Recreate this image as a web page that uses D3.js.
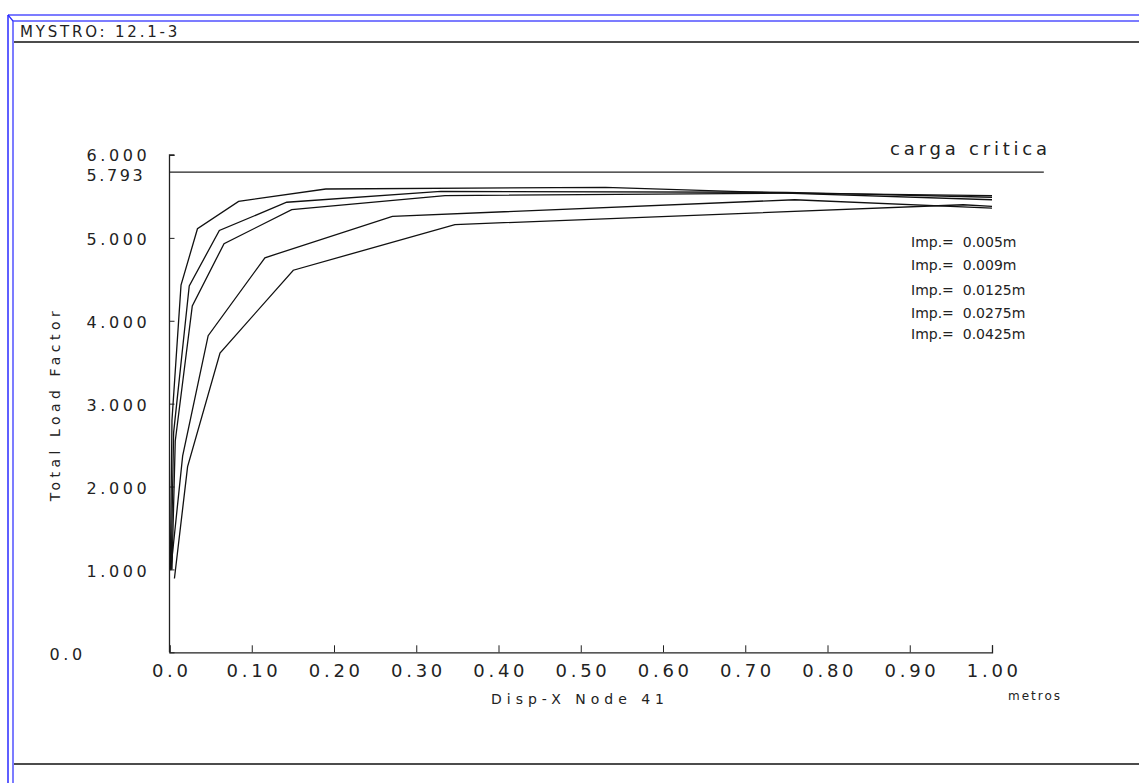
<!DOCTYPE html>
<html>
<head>
<meta charset="utf-8" />
<script src="https://cdnjs.cloudflare.com/ajax/libs/d3/7.8.5/d3.min.js"></script>
<style>
body { margin: 0; background: #fff; }
svg text { font-family: "DejaVu Sans", sans-serif; fill: #222; white-space: pre; }
</style>
</head>
<body>
<svg id="chart" width="1139" height="783"></svg>
<script>
// imperfection amplitudes (legend)
var imperfections = ["0.005m", "0.009m", "0.0125m", "0.0275m", "0.0425m"];

// load factor vs Disp-X node 41 (metros), one list per imperfection
var curve005 = [[0.001,1.0],[0.003,2.8],[0.014,4.43],[0.034,5.11],[0.084,5.44],[0.19,5.59],[0.53,5.61],[1.0,5.46]];
var curve009 = [[0.002,1.0],[0.005,2.65],[0.024,4.42],[0.0606,5.09],[0.1425,5.43],[0.33,5.56],[0.75,5.55],[1.0,5.49]];
var curve0125 = [[0.003,1.0],[0.007,2.55],[0.0277,4.18],[0.0663,4.93],[0.1486,5.34],[0.335,5.51],[0.75,5.54],[1.0,5.51]];
var curve0275 = [[0.0015,0.99],[0.016,2.37],[0.047,3.82],[0.116,4.76],[0.271,5.26],[0.76,5.46],[1.0,5.36]];
var curve0425 = [[0.006,0.89],[0.022,2.24],[0.0614,3.61],[0.1505,4.61],[0.347,5.16],[0.965,5.40],[1.0,5.38]];
var curves = [curve005, curve009, curve0125, curve0275, curve0425];

var criticalLoad = 5.793;
var criticalEnd = 1.063;   // line runs a bit past the axis end
var xTicks = [0,0.1,0.2,0.3,0.4,0.5,0.6,0.7,0.8,0.9,1.0];
var yTicks = [0,1,2,3,4,5,6];

var svg = d3.select("#chart");

// frame (plotter page border)
svg.append("line").attr("x1",8).attr("y1",15).attr("x2",8).attr("y2",783).attr("stroke","#2a2aff").attr("stroke-width",1.5);
svg.append("line").attr("x1",13).attr("y1",21).attr("x2",13).attr("y2",783).attr("stroke","#5050ff").attr("stroke-width",1.5);
svg.append("line").attr("x1",8).attr("y1",15).attr("x2",1139).attr("y2",15).attr("stroke","#5050ff").attr("stroke-width",1.5);
svg.append("line").attr("x1",13).attr("y1",21).attr("x2",1139).attr("y2",21).attr("stroke","#5050ff").attr("stroke-width",1.5);
svg.append("line").attr("x1",8).attr("y1",15).attr("x2",13).attr("y2",21).attr("stroke","#2a2aff").attr("stroke-width",1.2);
svg.append("line").attr("x1",14).attr("y1",42).attr("x2",1139).attr("y2",42).attr("stroke","#111").attr("stroke-width",1.3);
svg.append("line").attr("x1",14).attr("y1",764).attr("x2",1139).attr("y2",764).attr("stroke","#111").attr("stroke-width",1.3);

svg.append("text").attr("x",20).attr("y",37).style("font-size","15px").style("letter-spacing","2.8px").text("MYSTRO: 12.1-3");

var x = d3.scaleLinear().domain([0,1]).range([169.5,992]);
var y = d3.scaleLinear().domain([0,6]).range([652.3,155]);

// x axis
var gx = svg.append("g").attr("transform","translate(0,652.3)")
  .call(d3.axisBottom(x).tickValues(xTicks).tickSize(-7).tickPadding(12)
    .tickFormat(function(d){ return d === 0 ? "0.0" : d3.format(".2f")(d); }));
gx.select(".domain").attr("stroke","#222").attr("stroke-width",1.3);
gx.selectAll(".tick line").attr("stroke","#222");
gx.selectAll("text").attr("fill","#222").style("font-size","18px").style("letter-spacing","3.7px")
  .attr("dx","1.8px").attr("font-family",null);

// y axis
var gy = svg.append("g").attr("transform","translate(169.5,0)")
  .call(d3.axisLeft(y).tickValues(yTicks.concat([criticalLoad])).tickSize(-5)
    .tickFormat(function(d){ return d === 0 ? "0.0" : d3.format(".3f")(d); }));
gy.select(".domain").attr("stroke","#222").attr("stroke-width",1.3).attr("d","M0," + y(0) + "V" + y(6) + "h5");
gy.selectAll(".tick line").attr("stroke","#222").filter(function(d){ return d === criticalLoad; }).remove();
gy.selectAll("text").attr("fill","#222").attr("font-family",null)
  .style("font-size","16px").style("letter-spacing","3.6px")
  .attr("text-anchor","start").attr("dy","0.42em")
  .attr("x", function(d){ return d === 0 ? -120 : -83; });
gy.selectAll("text").filter(function(d){ return d === criticalLoad; }).style("letter-spacing","2.6px").attr("dy","0.5em");
gy.selectAll("text").filter(function(d){ return d === 6; }).attr("dy","0.32em");

// critical load
svg.append("line").attr("x1",x(0)).attr("x2",x(criticalEnd)).attr("y1",y(criticalLoad)).attr("y2",y(criticalLoad))
  .attr("stroke","#222").attr("stroke-width",1.3);
svg.append("text").attr("x",890).attr("y",155).style("font-size","18px").style("letter-spacing","3.8px").text("carga critica");

// curves
var line = d3.line().x(function(d){ return x(d[0]); }).y(function(d){ return y(d[1]); });
svg.append("g").selectAll("path").data(curves).enter().append("path")
  .attr("d", line).attr("fill","none").attr("stroke","#111").attr("stroke-width",1.3);

// legend
svg.append("g").selectAll("text").data(imperfections).enter().append("text")
  .attr("x",911).attr("y",function(d,i){ return [247,270,295,318,339][i]; })
  .style("font-size","14px").text(function(d){ return "Imp.=  " + d; });

// axis titles
svg.append("text").attr("transform","translate(60,404) rotate(-90)").attr("text-anchor","middle")
  .style("font-size","14px").style("letter-spacing","4.5px").text("Total Load Factor");
svg.append("text").attr("x",580).attr("y",704).attr("text-anchor","middle")
  .style("font-size","14px").style("letter-spacing","5px").text("Disp-X Node 41");
svg.append("text").attr("x",1008).attr("y",700).style("font-size","12px").style("letter-spacing","2px").text("metros");
</script>
</body>
</html>
